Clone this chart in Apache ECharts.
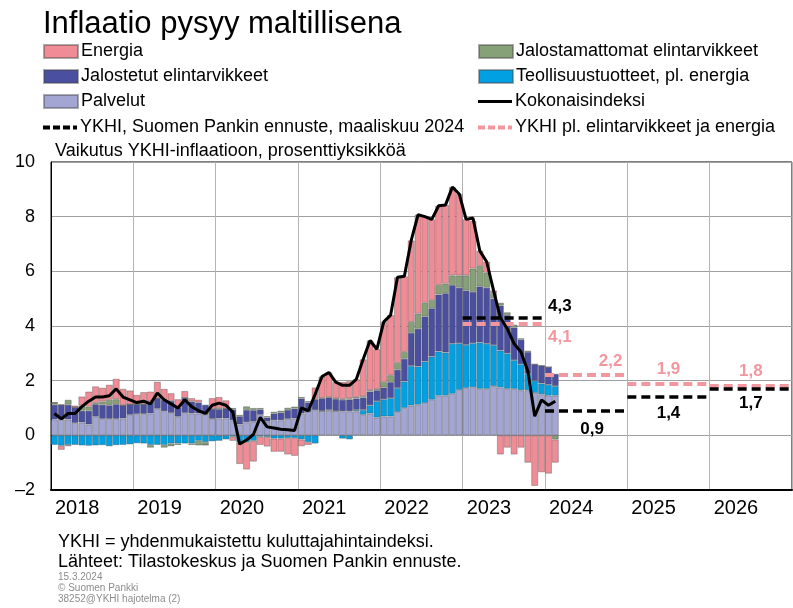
<!DOCTYPE html>
<html>
<head>
<meta charset="utf-8">
<script src="https://cdn.jsdelivr.net/npm/echarts@6/dist/echarts.min.js"></script>
<style>
    html, body { margin: 0; padding: 0; background: #fff; }
    #chart { width: 793px; height: 608px; }
</style>
</head>
<body>
<div id="chart"></div>
<script>
    // kuukausidata tammikuu 2018 - helmikuu 2024, prosenttiyksikköä
    var years = ['2018', '2019', '2020', '2021', '2022', '2023', '2024', '2025', '2026'];

    var palvelut = [
        0.58, 0.57, 0.58, 0.45, 0.47, 0.40, 0.68, 0.60, 0.60, 0.60, 0.62, 0.75,
        0.78, 0.78, 0.80, 0.97, 0.88, 0.82, 0.68, 0.82, 0.80, 0.80, 0.75, 0.60,
        0.62, 0.62, 0.55, 0.40, 0.48, 0.50, 0.75, 0.50, 0.55, 0.55, 0.60, 0.62,
        0.80, 0.85, 0.92, 0.90, 0.90, 0.90, 0.88, 0.88, 0.88, 0.75, 0.80, 0.65,
        0.69, 0.69, 0.85, 1.00, 1.09, 1.12, 1.18, 1.30, 1.45, 1.45, 1.52, 1.66,
        1.73, 1.76, 1.70, 1.70, 1.80, 1.75, 1.70, 1.70, 1.65, 1.65, 1.55, 1.50,
        1.45, 1.45
    ];
    var teollisuus = [
        -0.35, -0.38, -0.35, -0.35, -0.37, -0.38, -0.37, -0.36, -0.40, -0.36, -0.35, -0.33,
        -0.29, -0.30, -0.35, -0.35, -0.35, -0.30, -0.30, -0.30, -0.30, -0.20, -0.25, -0.22,
        -0.20, -0.15, -0.05, -0.25, -0.25, -0.20, -0.05, -0.06, -0.12, -0.12, -0.10, -0.10,
        -0.15, -0.25, -0.30, 0.00, 0.03, 0.00, -0.12, -0.15, 0.05, 0.18, 0.30, 0.60,
        0.63, 0.67, 0.88, 0.97, 1.45, 1.40, 1.52, 1.58, 1.62, 1.58, 1.83, 1.71,
        1.58, 1.61, 1.70, 1.65, 1.50, 1.35, 1.30, 1.05, 0.95, 0.60, 0.45, 0.40,
        0.40, 0.35
    ];
    var jalostetut = [
        0.54, 0.55, 0.54, 0.57, 0.43, 0.50, 0.46, 0.52, 0.50, 0.54, 0.48, 0.39,
        0.36, 0.36, 0.44, 0.39, 0.42, 0.44, 0.34, 0.55, 0.44, 0.40, 0.37, 0.36,
        0.34, 0.36, 0.40, 0.30, 0.45, 0.42, 0.20, 0.15, 0.25, 0.28, 0.33, 0.36,
        0.55, 0.35, 0.40, 0.45, 0.45, 0.43, 0.42, 0.43, 0.42, 0.45, 0.50, 0.40,
        0.43, 0.59, 0.67, 0.83, 1.21, 1.38, 1.65, 1.77, 2.08, 2.17, 2.15, 2.03,
        1.99, 1.88, 2.05, 2.05, 1.70, 1.65, 1.40, 1.20, 0.90, 0.80, 0.60, 0.65,
        0.65, 0.45
    ];
    var jalostamattomat = [
        0.08, 0.00, 0.18, 0.00, 0.19, 0.15, 0.05, 0.12, 0.20, 0.18, 0.00, 0.00,
        0.00, 0.00, -0.10, 0.00, -0.10, -0.10, -0.05, 0.00, -0.05, -0.17, -0.10, 0.00,
        0.04, 0.00, 0.05, 0.05, 0.13, 0.08, 0.05, 0.05, 0.06, 0.07, 0.08, 0.07,
        0.05, 0.05, 0.03, 0.02, 0.02, 0.02, 0.03, 0.04, 0.05, 0.05, 0.05, 0.05,
        0.20, 0.25, 0.25, 0.25, 0.40, 0.55, 0.50, 0.30, 0.35, 0.35, 0.35, 0.45,
        0.55, 0.85, 0.75, 0.55, 0.20, 0.10, 0.10, 0.10, 0.05, 0.05, 0.00, 0.00,
        0.00, -0.15
    ];
    var energia = [
        0.00, -0.15, -0.05, 0.07, 0.33, 0.55, 0.60, 0.50, 0.55, 0.75, 0.60, 0.50,
        0.34, 0.44, 0.36, 0.60, 0.40, 0.28, 0.30, 0.25, 0.12, 0.10, 0.00, 0.40,
        0.40, 0.30, -0.15, -0.80, -1.00, -0.76, -0.30, -0.35, -0.48, -0.48, -0.60, -0.65,
        -0.25, -0.10, 0.40, 0.78, 0.90, 0.60, 0.62, 0.63, 0.65, 1.35, 1.82, 1.45,
        2.20, 2.20, 3.13, 2.77, 2.98, 3.62, 3.15, 2.95, 2.90, 2.88, 3.23, 2.98,
        2.05, 1.75, 0.55, 0.40, 0.10, -0.70, -0.45, -0.70, -0.45, -1.00, -1.85, -1.35,
        -1.40, -0.85
    ];
    var kokonaisindeksi = [
        0.8, 0.6, 0.8, 0.8, 1.05, 1.25, 1.4, 1.4, 1.45, 1.7, 1.4, 1.3,
        1.2, 1.25, 1.15, 1.55, 1.3, 1.15, 1.0, 1.3, 1.05, 0.9, 0.8, 1.1,
        1.18, 1.1, 0.85, -0.32, -0.17, 0.03, 0.66, 0.31, 0.27, 0.22, 0.2, 0.18,
        1.0, 0.9, 1.5, 2.15, 2.3, 1.95, 1.83, 1.83, 2.05, 2.78, 3.47, 3.15,
        4.15, 4.4, 5.78, 5.82, 7.13, 8.07, 8.0, 7.9, 8.4, 8.43, 9.08, 8.83,
        7.9, 7.95, 6.75, 6.35, 5.3, 4.3, 3.9, 3.35, 3.05, 2.35, 0.7, 1.3,
        1.1, 1.25
    ];

    // vuosiennusteet
    var ennusteVuodet = [2023, 2024, 2025, 2026];
    var ykhiEnnuste = [4.3, 0.9, 1.4, 1.7];
    var pohjaEnnuste = [4.1, 2.2, 1.9, 1.8];

    var months = [];
    years.forEach(function (y) {
        for (var m = 1; m <= 12; m++) {
            months.push(y + '-' + (m < 10 ? '0' + m : m));
        }
    });

    var FONT = 'Liberation Sans, Arial, sans-serif';
    var PINK = '#f3979f';
    var DASH_ICON = 'path://M0,0h7v4h-7z M10,0h7v4h-7z M20,0h7v4h-7z M30,0h4v4h-4z';

    function fmt(v) {
        return String(v).replace('.', ',');
    }

    // vaakaviivat ennustevuosille markLinella
    function segments(vals, color, positions) {
        return ennusteVuodet.map(function (yr, i) {
            var p = positions[i];
            return [
                {
                    coord: [yr, vals[i]],
                    label: {
                        show: true,
                        position: p.pos,
                        formatter: fmt(vals[i]),
                        color: color,
                        fontFamily: FONT,
                        fontSize: 17,
                        fontWeight: 'bold',
                        distance: p.dist || 5,
                        offset: p.off || [0, 0]
                    }
                },
                { coord: [yr + 1, vals[i]] }
            ];
        });
    }

    function barSeries(name, data, color) {
        return {
            name: name,
            type: 'bar',
            stack: 'vaikutus',
            xAxisIndex: 0,
            barCategoryGap: '0%',
            data: data,
            itemStyle: {
                color: color,
                borderColor: 'rgba(70,70,70,0.45)',
                borderWidth: 0.8
            },
            emphasis: { disabled: true }
        };
    }

    function legendBox(left, top, h, items) {
        return {
            orient: 'vertical',
            left: left,
            top: top,
            padding: 0,
            itemWidth: 34,
            itemHeight: h,
            itemGap: 6,
            textStyle: { fontSize: 18, color: '#000', lineHeight: 19, padding: [0, 0, 0, -2], fontFamily: FONT },
            data: items
        };
    }

    var myChart = echarts.init(document.getElementById('chart'));

    var option = {
        animation: false,
        textStyle: { fontFamily: FONT },
        title: {
            text: 'Inflaatio pysyy maltillisena',
            left: 38,
            top: 4,
            textStyle: { fontSize: 31, fontWeight: 'normal', color: '#000', fontFamily: FONT }
        },
        legend: [
            legendBox(43, 42, 13, [
                { name: 'Energia', icon: 'rect' },
                { name: 'Jalostetut elintarvikkeet', icon: 'rect' },
                { name: 'Palvelut', icon: 'rect' }
            ]),
            legendBox(43, 118, 4, [
                { name: 'YKHI, Suomen Pankin ennuste, maaliskuu 2024', icon: DASH_ICON }
            ]),
            legendBox(478, 42, 13, [
                { name: 'Jalostamattomat elintarvikkeet', icon: 'rect' },
                { name: 'Teollisuustuotteet, pl. energia', icon: 'rect' }
            ]),
            legendBox(478, 92, 3, [
                { name: 'Kokonaisindeksi', icon: 'rect' }
            ]),
            legendBox(478, 118, 4, [
                { name: 'YKHI pl. elintarvikkeet ja energia', icon: DASH_ICON }
            ])
        ],
        grid: {
            left: 51,
            right: 1,
            top: 162,
            bottom: 118,
            show: true,
            borderColor: '#000',
            borderWidth: 1
        },
        xAxis: [
            {
                type: 'category',
                data: months,
                show: false
            },
            {
                type: 'value',
                min: 2018,
                max: 2027,
                interval: 1,
                position: 'bottom',
                axisLine: { show: true, onZero: false, lineStyle: { color: '#000', width: 2 } },
                axisTick: { show: false },
                axisLabel: {
                    fontSize: 20,
                    color: '#000',
                    margin: 8,
                    align: 'left',
                    padding: [0, 0, 0, 4],
                    showMaxLabel: false,
                    fontFamily: FONT,
                    formatter: function (v) { return String(v); }
                },
                splitLine: { show: true, lineStyle: { color: '#b4b4b4', width: 1 } }
            }
        ],
        yAxis: {
            type: 'value',
            min: -2,
            max: 10,
            interval: 2,
            axisLine: { show: true, lineStyle: { color: '#000' } },
            axisTick: { show: false },
            axisLabel: {
                fontSize: 18,
                color: '#000',
                margin: 16,
                fontFamily: FONT,
                formatter: function (v) { return v < 0 ? '\u2013' + Math.abs(v) : v; }
            },
            splitLine: { lineStyle: { color: '#a0a0a0', width: 1 } }
        },
        series: [
            barSeries('Palvelut', palvelut, '#a3a5d3'),
            barSeries('Teollisuustuotteet, pl. energia', teollisuus, '#00a0e2'),
            barSeries('Jalostetut elintarvikkeet', jalostetut, '#4a4f9f'),
            barSeries('Jalostamattomat elintarvikkeet', jalostamattomat, '#86a078'),
            barSeries('Energia', energia, '#f08c95'),
            {
                name: 'Kokonaisindeksi',
                type: 'line',
                xAxisIndex: 0,
                data: kokonaisindeksi,
                symbol: 'none',
                z: 5,
                itemStyle: { color: '#000' },
                lineStyle: { color: '#000', width: 3 }
            },
            {
                name: 'YKHI pl. elintarvikkeet ja energia',
                type: 'line',
                xAxisIndex: 1,
                data: [],
                symbol: 'none',
                z: 4,
                itemStyle: { color: PINK },
                lineStyle: { color: PINK, width: 4, type: [9, 5] },
                markLine: {
                    silent: true,
                    symbol: ['none', 'none'],
                    lineStyle: { color: PINK, width: 4, type: [9, 5] },
                    data: segments(pohjaEnnuste, PINK, [
                        { pos: 'end', dist: 3, off: [0, 14] },
                        { pos: 'insideEndTop', dist: 5 },
                        { pos: 'insideMiddleTop', dist: 6 },
                        { pos: 'insideMiddleTop', dist: 6 }
                    ])
                }
            },
            {
                name: 'YKHI, Suomen Pankin ennuste, maaliskuu 2024',
                type: 'line',
                xAxisIndex: 1,
                data: [],
                symbol: 'none',
                z: 4,
                itemStyle: { color: '#000' },
                lineStyle: { color: '#000', width: 3.5, type: [9, 5] },
                markLine: {
                    silent: true,
                    symbol: ['none', 'none'],
                    lineStyle: { color: '#000', width: 3.5, type: [9, 5] },
                    data: segments(ykhiEnnuste, '#000', [
                        { pos: 'end', dist: 3, off: [0, -11] },
                        { pos: 'insideMiddleBottom', dist: 8, off: [6, 2] },
                        { pos: 'insideMiddleBottom', dist: 8 },
                        { pos: 'insideMiddleBottom', dist: 6 }
                    ])
                }
            }
        ],
        graphic: [
            { type: 'text', left: 55, top: 142, style: { text: 'Vaikutus YKHI-inflaatioon, prosenttiyksikköä', font: '18px ' + FONT, fill: '#000' } },
            { type: 'text', left: 58, top: 533, style: { text: 'YKHI = yhdenmukaistettu kuluttajahintaindeksi.', font: '18px ' + FONT, fill: '#000' } },
            { type: 'text', left: 58, top: 553, style: { text: 'Lähteet: Tilastokeskus ja Suomen Pankin ennuste.', font: '18px ' + FONT, fill: '#000' } },
            { type: 'text', left: 58, top: 572, style: { text: '15.3.2024', font: '10px ' + FONT, fill: '#8c8c8c' } },
            { type: 'text', left: 58, top: 583, style: { text: '© Suomen Pankki', font: '10px ' + FONT, fill: '#8c8c8c' } },
            { type: 'text', left: 58, top: 594, style: { text: '38252@YKHI hajotelma (2)', font: '10px ' + FONT, fill: '#8c8c8c' } }
        ]
    };

    myChart.setOption(option);
</script>
</body>
</html>
